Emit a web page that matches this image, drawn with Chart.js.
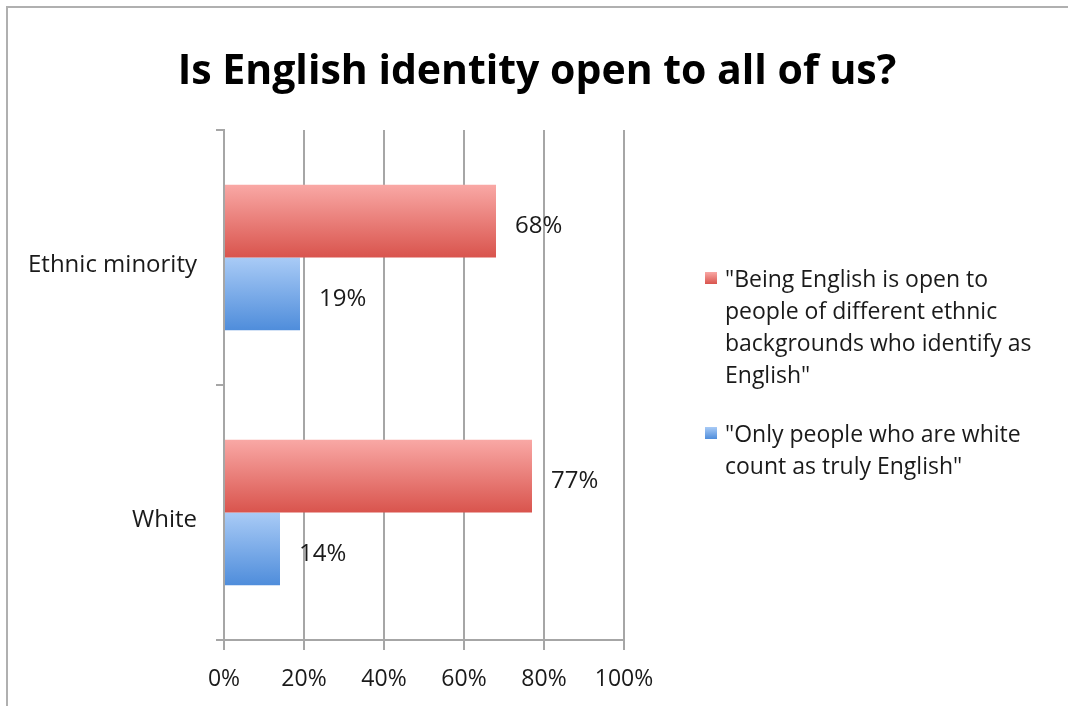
<!DOCTYPE html>
<html>
<head>
<meta charset="utf-8">
<script src="https://cdn.jsdelivr.net/npm/chart.js@4.4.1/dist/chart.umd.min.js"></script>
<style>
  html, body { margin: 0; padding: 0; background: #fff; }
  #wrap { width: 1068px; height: 706px; position: relative; }
</style>
</head>
<body>
<div id="wrap"><canvas id="chartIdentidad" width="1068" height="706"></canvas></div>
<script>
const categorias = ['Ethnic minority', 'White']
const serieAbierto = [68, 77]
const serieBlancos = [19, 14]
const etiquetasSeries = [
    ['"Being English is open to', 'people of different ethnic', 'backgrounds who identify as', 'English"'],
    ['"Only people who are white', 'count as truly English"']
]
const ticksX = [0, 20, 40, 60, 80, 100]
const titulo = 'Is English identity open to all of us?'

const fuente = '"Open Sans", Lato, sans-serif'

const canvas = document.getElementById('chartIdentidad')
const context = canvas.getContext('2d')

// degradado vertical por barra
const degradado = (arriba, abajo) => (ctx) => {
    const chart = ctx.chart
    const meta = chart.getDatasetMeta(ctx.datasetIndex)
    const el = meta.data[ctx.dataIndex]
    if (!el || !chart.chartArea || !el.height) return abajo
    const y0 = el.y - el.height / 2
    const g = chart.ctx.createLinearGradient(0, y0, 0, y0 + el.height)
    g.addColorStop(0, arriba)
    g.addColorStop(1, abajo)
    return g
}

const marco = {
    id: 'marco',
    beforeDraw(chart) {
        const c = chart.ctx
        c.save()
        c.strokeStyle = '#b0b0b0'
        c.lineWidth = 2
        c.beginPath()
        c.moveTo(7, 706)
        c.lineTo(7, 7)
        c.lineTo(1068, 7)
        c.stroke()
        // titulo
        c.font = 'bold 41px ' + fuente
        c.fillStyle = '#000'
        c.textAlign = 'center'
        c.textBaseline = 'middle'
        c.fillText(titulo, 537, 72)
        c.restore()
    }
}

const etiquetasValores = {
    id: 'etiquetasValores',
    afterDatasetsDraw(chart) {
        const c = chart.ctx
        c.save()
        c.font = '24px ' + fuente
        c.fillStyle = '#1a1a1a'
        c.textBaseline = 'alphabetic'
        chart.data.datasets.forEach((ds, i) => {
            chart.getDatasetMeta(i).data.forEach((el, j) => {
                c.fillText(ds.data[j] + '%', el.x + 19, el.y + 12)
            })
        })
        c.restore()
    }
}

const leyenda = {
    id: 'leyenda',
    afterDraw(chart) {
        const c = chart.ctx
        const x0 = 705, alto = 32
        let y = 287
        c.save()
        c.font = '23px ' + fuente
        c.textBaseline = 'alphabetic'
        chart.data.datasets.forEach((ds) => {
            const lineas = ds.label
            const g = c.createLinearGradient(0, y - 15, 0, y - 3)
            g.addColorStop(0, ds.colorArriba)
            g.addColorStop(1, ds.colorAbajo)
            c.fillStyle = g
            c.fillRect(x0, y - 15, 12, 12)
            c.fillStyle = '#1a1a1a'
            lineas.forEach((l, k) => c.fillText(l, x0 + 20, y + k * alto))
            y += (lineas.length - 1) * alto + 59
        })
        c.restore()
    }
}

const chartIdentidad = new Chart(context, {
    type: 'bar',
    data: {
        labels: categorias,
        datasets: [
            {
                label: etiquetasSeries[0],
                data: serieAbierto,
                colorArriba: '#f9a8a5',
                colorAbajo: '#d9544d',
                backgroundColor: degradado('#f9a8a5', '#d9544d'),
                categoryPercentage: 0.57,
                barPercentage: 1
            },
            {
                label: etiquetasSeries[1],
                data: serieBlancos,
                colorArriba: '#a9cbf6',
                colorAbajo: '#4f8ddb',
                backgroundColor: degradado('#a9cbf6', '#4f8ddb'),
                categoryPercentage: 0.57,
                barPercentage: 1
            }
        ]
    },
    options: {
        indexAxis: 'y',
        responsive: false,
        animation: false,
        layout: { padding: { left: 0, right: 444, top: 130, bottom: 0 } },
        plugins: {
            legend: { display: false },
            tooltip: { enabled: false },
            title: { display: false }
        },
        scales: {
            x: {
                min: 0,
                max: 100,
                afterBuildTicks: (axis) => { axis.ticks = ticksX.map(v => ({ value: v })) },
                afterFit: (axis) => { axis.height = 66 },
                ticks: {
                    callback: (v) => v + '%',
                    color: '#1a1a1a',
                    font: { family: fuente, size: 23 },
                    padding: 16
                },
                grid: { color: '#a6a6a6', lineWidth: 2, tickLength: 10, drawTicks: true },
                border: { color: '#a6a6a6', width: 2 }
            },
            y: {
                offset: true,
                afterFit: (axis) => { axis.width = 224 },
                ticks: {
                    color: '#1a1a1a',
                    font: { family: fuente, size: 24 },
                    padding: 19,
                    labelOffset: 8
                },
                grid: { offset: true, drawOnChartArea: false, color: '#a6a6a6', lineWidth: 2, tickLength: 8 },
                border: { color: '#a6a6a6', width: 2 }
            }
        }
    },
    plugins: [marco, etiquetasValores, leyenda]
})

chartIdentidad.update()
</script>
</body>
</html>
